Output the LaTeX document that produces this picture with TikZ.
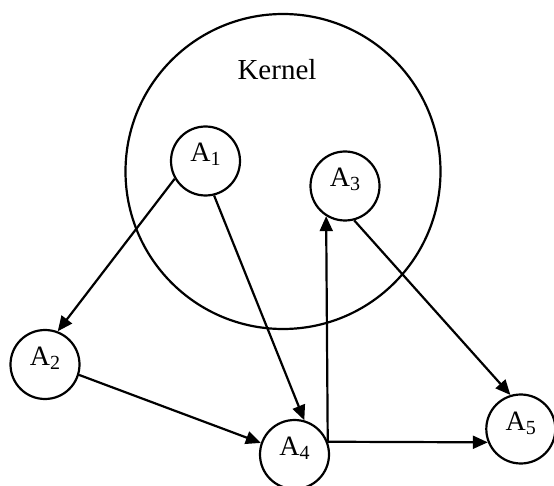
\documentclass[tikz,border=0pt]{standalone}
\usepackage{fontspec}
\setmainfont{Liberation Serif}
\usetikzlibrary{arrows.meta}
% lowered, smaller index after an agent letter
\newcommand\agsub[1]{\raisebox{-4pt}{\fontsize{20}{20}\selectfont #1}}
\begin{document}
\begin{tikzpicture}[x=1pt,y=-1pt,
  agent/.style={circle, draw, line width=2.2pt, minimum size=69pt, inner sep=0pt,
    font=\fontsize{28}{28}\selectfont, text height=18pt, text depth=16pt},
  zone/.style={circle, draw, line width=2.2pt, minimum size=315pt, inner sep=0pt},
  link/.style={line width=2.2pt, -{Triangle[length=15pt,width=13pt]}}]
\useasboundingbox (0,0) rectangle (554,486);

% kernel region
\node[zone] (zone) at (283,171.5) {};
\node[anchor=base, font=\fontsize{29}{29}\selectfont] (kernel) at (277,80) {Kernel};

% agents
\node[agent] (A1) at (205.5,161) {A\agsub{1}};
\node[agent] (A3) at (345,186) {A\agsub{3}};
\node[agent] (A2) at (45,364.5) {A\agsub{2}};
\node[agent] (A4) at (294.5,454.5) {A\agsub{4}};
\node[agent] (A5) at (520.8,429) {A\agsub{5}};

% dependencies
\draw[link] (A1.210) -- (A2.69);
\draw[link] (A1.-76) -- (A4.74);
\draw[link] (A2.-17) -- (A4.161);
\draw[link] (A4.21) -- (A3.238);
\draw[link] (A4.21) -- (A5.202);
\draw[link] (A3.-75) -- (A5.107);
\end{tikzpicture}
\end{document}
